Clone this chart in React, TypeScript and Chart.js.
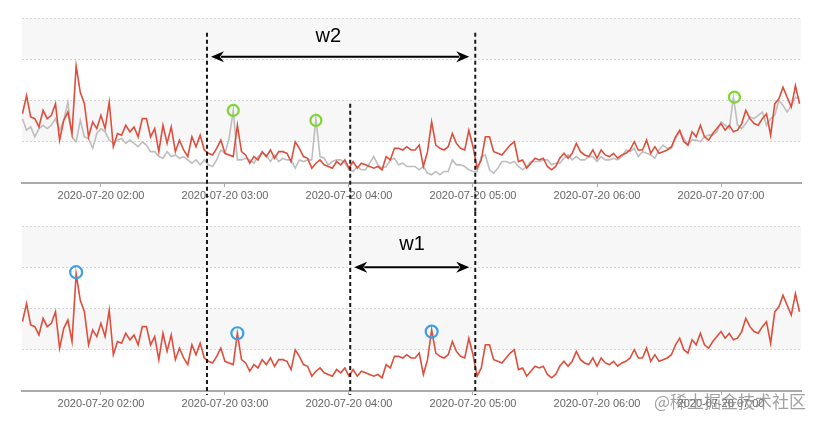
import React, { useEffect, useRef } from "react";
import { Chart, registerables } from "chart.js";

Chart.register(...registerables);

// ---- data (minutes after midnight, 2020-07-20) ----
const START_MINUTE = 82;
const STEP_MINUTES = 2;

const redSeries = [
  42, 53, 40, 39, 34, 44, 39, 41, 48, 26, 38, 43, 30, 71, 55, 48, 28, 37, 33, 41,
  33, 49, 22, 30, 29, 35, 31, 34, 28, 39, 39, 28, 33, 19, 35, 24, 34, 19, 26, 20,
  16, 28, 22, 29, 20, 18, 17, 21,
  26, 18, 17, 16, 35, 19, 17, 12, 16, 14, 19, 16, 20, 15, 19, 19, 18, 13, 25, 21,
  16, 15, 9, 12, 14, 11, 10, 9, 13, 11, 14, 9, 13, 9, 12, 11, 10, 9, 10, 8,
  16, 14, 21, 21, 20, 22, 20,
  20, 23, 10, 19, 37, 23, 21, 20, 22, 30, 24, 21, 20, 32, 22, 9, 14, 28, 28, 19,
  18, 17, 20, 23, 25, 13, 14, 9, 12, 15, 14, 15, 10, 8, 10, 15, 18, 15, 18, 24,
  19, 17, 16, 20, 15, 20, 17, 16,
  18, 15, 17, 18, 20, 25, 20, 20, 26, 18, 22, 18, 19, 20, 22, 28, 32, 25, 23, 31,
  28, 35, 28, 26, 30, 33, 36, 32, 35, 31, 32, 36, 44, 39, 36, 35, 39, 42, 29, 48,
  51, 58, 52, 46, 59, 48,
];

const graySeries = [
  39, 32, 34, 28, 33, 35, 33, 35, 39, 32, 38, 49, 28, 25, 38, 28, 27, 21, 30, 33,
  31, 26, 24, 26, 27, 24, 26, 24, 22, 25, 23, 19, 19, 16, 15, 19, 16, 17, 15, 16,
  14, 12, 14, 11, 14, 11, 10, 14,
  20, 18, 27, 44, 14, 14, 15, 14, 12, 16, 18, 17, 13, 17, 13, 15, 14, 14, 9, 14,
  13, 14, 14, 39, 16, 15, 11, 13, 14, 14, 12, 8, 7, 10, 8, 8, 12, 16, 11, 9,
  10, 14, 15, 11, 12, 10, 10,
  10, 8, 10, 6, 5, 7, 5, 7, 7, 14, 11, 11, 10, 8, 7, 7, 16, 17, 8, 6,
  9, 13, 13, 12, 13, 10, 8, 10, 13, 13, 13, 14, 14, 11, 12, 12, 15, 17, 14, 16,
  14, 14, 16, 16, 13, 16, 14, 14,
  15, 14, 16, 20, 19, 21, 16, 19, 18, 17, 15, 20, 23, 21, 21, 27, 31, 27, 23, 26,
  26, 25, 28, 29, 29, 31, 37, 35, 33, 52, 35, 33, 36, 40, 39, 41, 43, 35, 39, 41,
  50, 47, 43, 47, 52, 51,
];

const times = redSeries.map((_, i) => START_MINUTE + i * STEP_MINUTES);

const tickMinutes = [120, 180, 240, 300, 360, 420];
const X_MIN = 81.8;
const X_MAX = 458.7;

const greenMarks = [
  { x: 184, y: 44 },
  { x: 224, y: 38 },
  { x: 426.5, y: 52 },
];
const blueMarks = [
  { x: 108, y: 72 },
  { x: 186, y: 35 },
  { x: 280, y: 36 },
];

const dashTimes = [171.3, 240.6, 301.1];
const dashTopValues = [91, 48, 91];

const w2Arrow = { from: 171.3, to: 301.1, y: 76.5, label: "w2", labelX: 230, labelY: 89 };
const w1Arrow = { from: 240.6, to: 301.1, y: 75, label: "w1", labelX: 270.5, labelY: 89 };

const watermark = "@稀土掘金技术社区";

const RED = "rgb(222, 78, 60)";
const GRAY = "rgb(190, 190, 190)";
const GREEN = "rgb(128, 214, 48)";
const BLUE = "rgb(58, 160, 236)";
const FONT = "Helvetica, Arial, 'Liberation Sans', sans-serif";

function fmt(v: number) {
  const h = Math.floor(v / 60);
  const m = Math.round(v - h * 60);
  return `2020-07-20 ${String(h).padStart(2, "0")}:${String(m).padStart(2, "0")}`;
}

const bandsPlugin = {
  id: "bands",
  beforeDraw(chart: any) {
    const { ctx, chartArea } = chart;
    const ys = chart.scales.y;
    ctx.save();
    ctx.fillStyle = "#f7f7f7";
    [[75, 100], [25, 50]].forEach(([a, b]) => {
      const y1 = ys.getPixelForValue(b);
      const y2 = ys.getPixelForValue(a);
      ctx.fillRect(chartArea.left, y1, chartArea.right - chartArea.left, y2 - y1);
    });
    ctx.restore();
  },
};

function dashedLine(ctx: CanvasRenderingContext2D, x: number, y0: number, y1: number) {
  ctx.save();
  ctx.strokeStyle = "#1a1a1a";
  ctx.lineWidth = 2;
  ctx.setLineDash([4, 3]);
  ctx.beginPath();
  ctx.moveTo(x, y0);
  ctx.lineTo(x, y1);
  ctx.stroke();
  ctx.restore();
}

function arrow(ctx: CanvasRenderingContext2D, xl: number, xr: number, y: number) {
  const head = 13;
  const half = 5.5;
  ctx.save();
  ctx.strokeStyle = "#000";
  ctx.fillStyle = "#000";
  ctx.lineWidth = 2;
  ctx.beginPath();
  ctx.moveTo(xl + head - 3, y);
  ctx.lineTo(xr - head + 3, y);
  ctx.stroke();
  ctx.beginPath();
  ctx.moveTo(xl, y);
  ctx.lineTo(xl + head, y - half);
  ctx.lineTo(xl + head - 4, y);
  ctx.lineTo(xl + head, y + half);
  ctx.closePath();
  ctx.fill();
  ctx.beginPath();
  ctx.moveTo(xr, y);
  ctx.lineTo(xr - head, y - half);
  ctx.lineTo(xr - head + 4, y);
  ctx.lineTo(xr - head, y + half);
  ctx.closePath();
  ctx.fill();
  ctx.restore();
}

function drawArrowAnnotation(chart: any, a: any) {
  const { ctx } = chart;
  const xs = chart.scales.x;
  const ys = chart.scales.y;
  const y = ys.getPixelForValue(a.y);
  arrow(ctx, xs.getPixelForValue(a.from) + 4, xs.getPixelForValue(a.to) - 6, y);
  ctx.save();
  ctx.fillStyle = "#000";
  ctx.font = `20px ${FONT}`;
  ctx.textAlign = "center";
  ctx.textBaseline = "middle";
  ctx.fillText(a.label, xs.getPixelForValue(a.labelX), ys.getPixelForValue(a.labelY));
  ctx.restore();
}

const topAnnotations = {
  id: "topAnnotations",
  afterDraw(chart: any) {
    const xs = chart.scales.x;
    const ys = chart.scales.y;
    dashTimes.forEach((t, i) => {
      dashedLine(chart.ctx, xs.getPixelForValue(t), ys.getPixelForValue(dashTopValues[i]), chart.height);
    });
    drawArrowAnnotation(chart, w2Arrow);
  },
};

const bottomAnnotations = {
  id: "bottomAnnotations",
  afterDraw(chart: any) {
    const xs = chart.scales.x;
    const { ctx, chartArea } = chart;
    dashTimes.forEach((t) => {
      dashedLine(ctx, xs.getPixelForValue(t), 0, chartArea.bottom + 4);
    });
    drawArrowAnnotation(chart, w1Arrow);
    ctx.save();
    ctx.font = `17px 'Noto Sans CJK SC', sans-serif`;
    ctx.fillStyle = "rgba(130,130,130,0.75)";
    ctx.textAlign = "right";
    ctx.textBaseline = "middle";
    ctx.fillText(watermark, 806, chartArea.bottom + 11);
    ctx.restore();
  },
};

function baseOptions(padTop: number, padBottom: number) {
  return {
    responsive: false,
    animation: false,
    devicePixelRatio: 1,
    layout: { padding: { left: 22, right: 21, top: padTop, bottom: padBottom } },
    plugins: { legend: { display: false }, tooltip: { enabled: false } },
    elements: { point: { radius: 0 } },
    scales: {
      x: {
        type: "linear",
        min: X_MIN,
        max: X_MAX,
        afterBuildTicks: (s: any) => {
          s.ticks = tickMinutes.map((v) => ({ value: v }));
        },
        afterFit: (s: any) => {
          s.height = 29;
        },
        ticks: {
          autoSkip: false,
          maxRotation: 0,
          padding: 2,
          color: "#666",
          font: { size: 11, family: FONT },
          callback: (v: any) => fmt(Number(v)),
        },
        grid: { display: true, drawOnChartArea: false, drawTicks: true, tickLength: 4, color: "#aaa" },
        border: { display: true, color: "#aaa", width: 2 },
      },
      y: {
        min: 0,
        max: 100,
        afterFit: (s: any) => {
          s.width = 0;
        },
        ticks: { display: false, stepSize: 25 },
        grid: { color: "#d6d6d6", drawTicks: false, lineWidth: 1 },
        border: { display: false, dash: [2, 2] },
      },
    },
  };
}

function lineData(values: number[]) {
  return values.map((v, i) => ({ x: times[i], y: v }));
}

function markDataset(marks: any[], color: string, r: number) {
  return {
    data: marks,
    showLine: false,
    pointRadius: r,
    pointBorderWidth: 2.2,
    pointBorderColor: color,
    pointBackgroundColor: "rgba(0,0,0,0)",
    order: 0,
  };
}

export default function App() {
  const topRef = useRef<HTMLCanvasElement>(null);
  const bottomRef = useRef<HTMLCanvasElement>(null);

  useEffect(() => {
    const top = new Chart(topRef.current as HTMLCanvasElement, {
      type: "line",
      data: {
        datasets: [
          { data: lineData(redSeries), borderColor: RED, borderWidth: 1.6, pointRadius: 0, order: 1 },
          { data: lineData(graySeries), borderColor: GRAY, borderWidth: 1.6, pointRadius: 0, order: 2 },
          markDataset(greenMarks, GREEN, 5.5),
        ],
      },
      options: baseOptions(18, 0) as any,
      plugins: [bandsPlugin, topAnnotations],
    } as any);

    const bottom = new Chart(bottomRef.current as HTMLCanvasElement, {
      type: "line",
      data: {
        datasets: [
          { data: lineData(redSeries), borderColor: RED, borderWidth: 1.6, pointRadius: 0, order: 1 },
          markDataset(blueMarks, BLUE, 6),
        ],
      },
      options: baseOptions(14, 5) as any,
      plugins: [bandsPlugin, bottomAnnotations],
    } as any);

    return () => {
      top.destroy();
      bottom.destroy();
    };
  }, []);

  return (
    <div style={{ position: "absolute", left: 0, top: 0, width: 822, height: 425, background: "#fff" }}>
      <canvas ref={topRef} width={822} height={212} style={{ position: "absolute", left: 0, top: 0, display: "block" }} />
      <canvas ref={bottomRef} width={822} height={213} style={{ position: "absolute", left: 0, top: 212, display: "block" }} />
    </div>
  );
}
